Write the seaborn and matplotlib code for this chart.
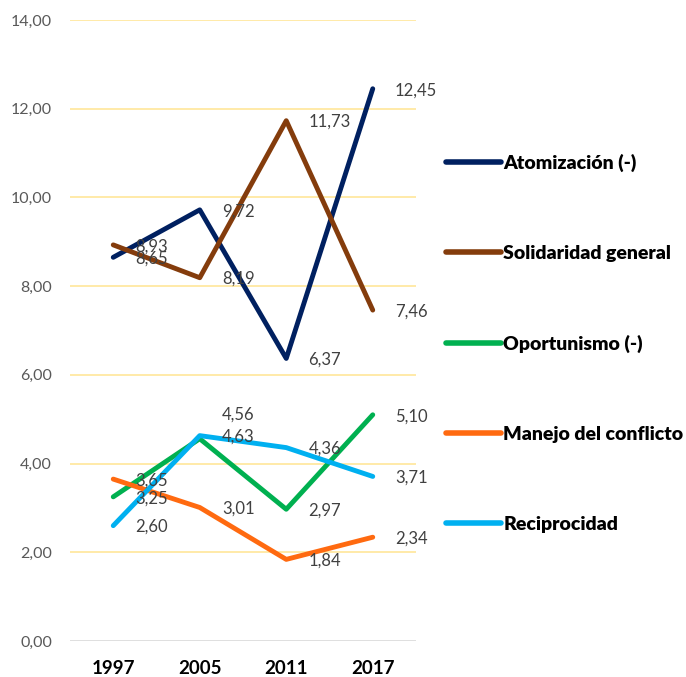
import matplotlib
matplotlib.use("Agg")
import matplotlib.pyplot as plt
import seaborn as sns
import pandas as pd

years = ["1997", "2005", "2011", "2017"]
series_names = ["Atomización (-)", "Solidaridad general", "Oportunismo (-)",
                "Manejo del conflicto", "Reciprocidad"]
atomizacion = [8.65, 9.72, 6.37, 12.45]
solidaridad = [8.93, 8.19, 11.73, 7.46]
oportunismo = [3.25, 4.56, 2.97, 5.10]
manejo = [3.65, 3.01, 1.84, 2.34]
reciprocidad = [2.60, 4.63, 4.36, 3.71]
colors = ["#002060", "#843C0C", "#00B050", "#FF6A10", "#00B0F0"]
yticks = [0, 2, 4, 6, 8, 10, 12, 14]

values = [atomizacion, solidaridad, oportunismo, manejo, reciprocidad]
rows = []
for name, vals in zip(series_names, values):
    for yr, v in zip(years, vals):
        rows.append({"Año": yr, "Valor": v, "Serie": name})
df = pd.DataFrame(rows)

sns.set_theme(style="white")
plt.rcParams["font.family"] = ["Lato", "DejaVu Sans"]

fig = plt.figure(figsize=(6.86, 6.77), dpi=100)
ax = fig.add_axes([70/686, 1-641/677, 346/686, 621/677])

for yv in yticks[1:]:
    ax.axhline(yv, color="#FFE699", lw=1.2, zorder=0)
ax.axhline(0, color="#D9D9D9", lw=1.2, zorder=0)

sns.lineplot(data=df, x="Año", y="Valor", hue="Serie", palette=colors,
             hue_order=series_names, linewidth=3.5, ax=ax, legend=True,
             sort=False)

xpos = {yr: i for i, yr in enumerate(years)}
for name, vals in zip(series_names, values):
    for yr, v in zip(years, vals):
        dy = -1
        if name == "Oportunismo (-)" and yr == "2005":
            dy = 17
        ax.annotate(f"{v:.2f}".replace(".", ","), (xpos[yr], v),
                    xytext=(16, dy), textcoords="offset points",
                    ha="left", va="center", fontsize=12, color="#404040")

ax.set_xlim(-0.5, 3.5)
ax.set_ylim(0, 14)
ax.set_yticks(yticks)
ax.set_yticklabels([f"{t:.2f}".replace(".", ",") for t in yticks],
                   fontsize=11.5, color="#595959")
ax.set_xticks(range(len(years)))
ax.set_xticklabels(years, fontsize=13.5, fontweight="bold", color="black")
ax.tick_params(axis="x", length=0, pad=14)
ax.tick_params(axis="y", length=0, pad=13)
ax.set_xlabel("")
ax.set_ylabel("")
for s in ax.spines.values():
    s.set_visible(False)

handles, labels = ax.get_legend_handles_labels()
ax.legend(handles, labels, loc="center left",
          bbox_to_anchor=(428/686, 1-343/677), bbox_transform=fig.transFigure,
          frameon=False, prop={"weight": "heavy", "size": 14},
          handlelength=2.85, handletextpad=0.12, labelspacing=3.75,
          labelcolor="black")
for line in ax.get_legend().get_lines():
    line.set_linewidth(4)
    line.set_solid_capstyle("round")

fig.savefig("out.png", dpi=100)
